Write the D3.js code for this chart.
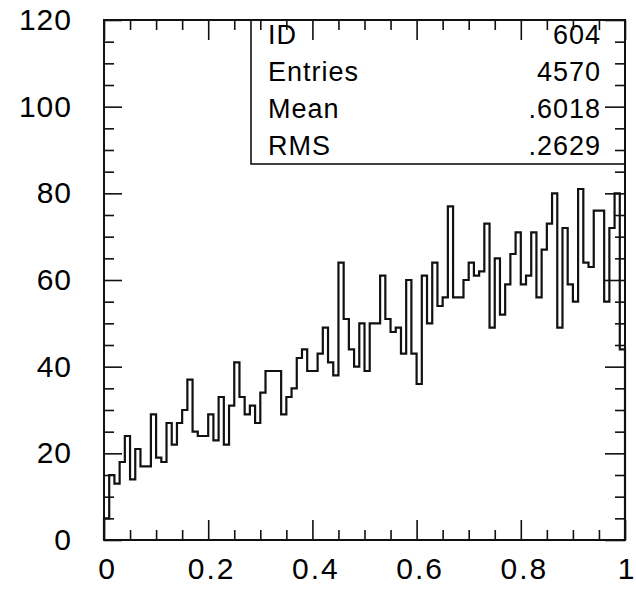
<!DOCTYPE html>
<html>
<head>
<meta charset="utf-8">
<script src="https://cdn.jsdelivr.net/npm/d3@7/dist/d3.min.js"></script>
<style>
  body { margin: 0; background: #ffffff; }
  svg text { font-family: "Liberation Sans", Arial, sans-serif; fill: #000; }
  .axis .domain { display: none; }
  .axis line { stroke: #111; stroke-width: 1.6px; }
</style>
</head>
<body>
<svg id="svgHisto" width="636" height="595"></svg>
<script>
// 100 bins between 0 and 1, counts
var binCounts = [
   5, 15, 13, 18, 24, 14, 21, 17, 17, 29,
  19, 18, 27, 22, 27, 30, 37, 25, 24, 24,
  29, 23, 33, 22, 31, 41, 33, 29, 31, 27,
  34, 39, 39, 39, 29, 33, 35, 42, 44, 39,
  39, 43, 49, 41, 38, 64, 51, 44, 40, 50,
  39, 50, 50, 61, 51, 48, 49, 43, 60, 43,
  36, 61, 50, 64, 54, 56, 77, 56, 56, 60,
  64, 61, 62, 73, 49, 65, 52, 59, 66, 71,
  59, 61, 71, 56, 67, 73, 80, 49, 72, 59,
  55, 81, 64, 63, 76, 76, 55, 72, 80, 44
];
var xTickValues = [0, 0.2, 0.4, 0.6, 0.8, 1];
var xTickLabels = ["0", "0.2", "0.4", "0.6", "0.8", "1"];
var yTickValues = [0, 20, 40, 60, 80, 100, 120];
var yTickLabels = ["0", "20", "40", "60", "80", "100", "120"];
var statNames = ["ID", "Entries", "Mean", "RMS"];
var statValues = ["604", "4570", ".6018", ".2629"];

// note: "top" is taken by window.top, so the frame edges get other names
var svg = d3.select("#svgHisto"),
  frameLeft = 104, frameRight = 625, frameTop = 20, frameBottom = 540;

var x = d3.scaleLinear().domain([0, 1]).range([frameLeft, frameRight]);
var y = d3.scaleLinear().domain([0, 120]).range([frameBottom, frameTop]);

var nBins = binCounts.length;
var xMinor = d3.range(0, 1.0001, 0.05).filter(function(d) {
  return Math.abs(d * 5 - Math.round(d * 5)) > 1e-6;
});
var yMinor = d3.range(0, 121, 5).filter(function(d) { return d % 20 != 0; });

// histogram outline, step after each bin's low edge
var points = [[0, 0]];
binCounts.forEach(function(c, i) { points.push([i / nBins, c]); });
points.push([1, binCounts[nBins - 1]]);
points.push([1, 0]);

var line = d3.line()
  .x(function(d) { return x(d[0]); })
  .y(function(d) { return y(d[1]); })
  .curve(d3.curveStepAfter);

svg.append("path")
  .attr("d", line(points))
  .attr("fill", "none")
  .attr("stroke", "#111")
  .attr("stroke-width", 2.2);

// statistics box in the top right corner
var boxLeft = 251, boxBottom = 164;
svg.append("rect")
  .attr("x", boxLeft).attr("y", frameTop)
  .attr("width", frameRight - boxLeft).attr("height", boxBottom - frameTop)
  .attr("fill", "#fff").attr("stroke", "#111").attr("stroke-width", 1.6);

var rowBase = [44, 81, 118, 155];
svg.selectAll(".statName")
  .data(statNames)
  .enter().append("text")
  .attr("class", "statName")
  .attr("x", 268)
  .attr("y", function(d, i) { return rowBase[i]; })
  .style("font-size", "27px")
  .style("letter-spacing", "1px")
  .text(function(d) { return d; });

svg.selectAll(".statValue")
  .data(statValues)
  .enter().append("text")
  .attr("class", "statValue")
  .attr("x", 601)
  .attr("y", function(d, i) { return rowBase[i]; })
  .attr("text-anchor", "end")
  .style("font-size", "27px")
  .style("letter-spacing", "1px")
  .text(function(d) { return d; });

// ticks point inwards on all four sides
function addAxis(axis, tx, ty) {
  return svg.append("g")
    .attr("class", "axis")
    .attr("transform", "translate(" + tx + "," + ty + ")")
    .call(axis);
}

var xAxis = addAxis(d3.axisBottom(x).tickValues(xTickValues).tickSize(-20)
  .tickPadding(18).tickFormat(function(d, i) { return xTickLabels[i]; }), 0, frameBottom);
xAxis.selectAll("text")
  .attr("dx", 3)
  .style("font-size", "30px")
  .style("letter-spacing", "2px")
  .style("font-family", "'Liberation Sans', Arial, sans-serif")
  .attr("fill", "#000");
// the "1" sits right on the page edge, keep it inside
xAxis.selectAll("text")
  .filter(function(d) { return d == 1; })
  .attr("text-anchor", "end")
  .attr("dx", 9)
  .style("letter-spacing", "0px");

addAxis(d3.axisBottom(x).tickValues(xMinor).tickSize(-10).tickFormat(""), 0, frameBottom);
addAxis(d3.axisTop(x).tickValues(xTickValues).tickSize(-20).tickFormat(""), 0, frameTop);
addAxis(d3.axisTop(x).tickValues(xMinor).tickSize(-10).tickFormat(""), 0, frameTop);

var yAxis = addAxis(d3.axisLeft(y).tickValues(yTickValues).tickSize(-18)
  .tickPadding(32).tickFormat(function(d, i) { return yTickLabels[i]; }), frameLeft, 0);
yAxis.selectAll("text")
  .style("font-size", "30px")
  .style("letter-spacing", "1px")
  .style("font-family", "'Liberation Sans', Arial, sans-serif")
  .attr("fill", "#000");

addAxis(d3.axisLeft(y).tickValues(yMinor).tickSize(-10).tickFormat(""), frameLeft, 0);
addAxis(d3.axisRight(y).tickValues(yTickValues).tickSize(-20).tickFormat(""), frameRight, 0);
addAxis(d3.axisRight(y).tickValues(yMinor).tickSize(-10).tickFormat(""), frameRight, 0);

// frame
svg.append("rect")
  .attr("x", frameLeft).attr("y", frameTop)
  .attr("width", frameRight - frameLeft).attr("height", frameBottom - frameTop)
  .attr("fill", "none").attr("stroke", "#111").attr("stroke-width", 2);
</script>
</body>
</html>
